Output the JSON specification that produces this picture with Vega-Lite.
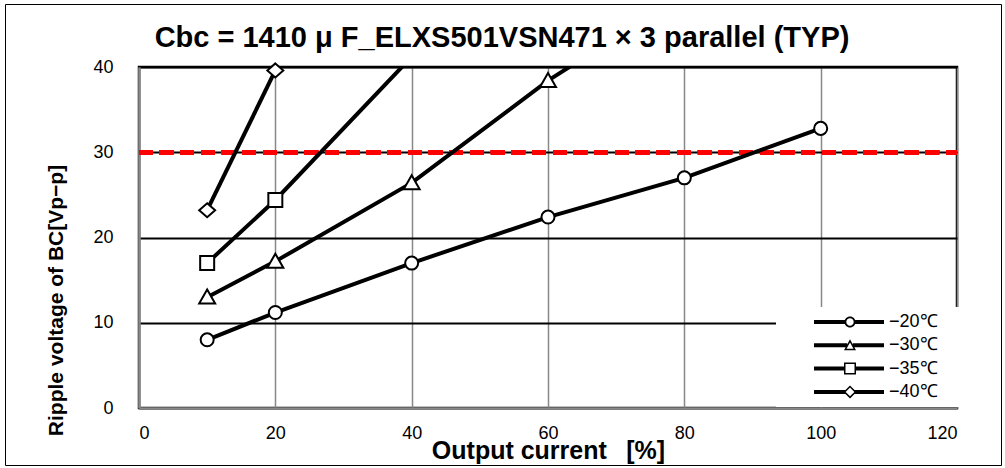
{
  "$schema": "https://vega.github.io/schema/vega-lite/v6.json",
  "width": 818,
  "height": 341,
  "autosize": "none",
  "padding": {"left": 139, "top": 67, "right": 48, "bottom": 60},
  "background": "white",
  "title": {
    "text": "Cbc = 1410 μ F_ELXS501VSN471 × 3 parallel (TYP)",
    "font": "Liberation Sans",
    "fontSize": 29,
    "fontWeight": "bold",
    "color": "black",
    "anchor": "middle",
    "baseline": "alphabetic",
    "offset": 18,
    "dx": -46,
    "dy": 90
  },
  "config": {
    "view": {"stroke": "black", "strokeWidth": 2.5},
    "axis": {
      "labelFont": "Liberation Sans",
      "labelFontSize": 18,
      "labelColor": "black",
      "titleFont": "Liberation Sans",
      "titleFontWeight": "bold",
      "titleColor": "black",
      "ticks": false,
      "tickSize": 0
    }
  },
  "resolve": {"scale": {"shape": "independent"}, "legend": {"shape": "independent"}},
  "data": {
    "values": [
      {"series": "−20℃", "x": 10, "y": 8.0},
      {"series": "−20℃", "x": 20, "y": 11.2},
      {"series": "−20℃", "x": 40, "y": 17.0},
      {"series": "−20℃", "x": 60, "y": 22.4},
      {"series": "−20℃", "x": 80, "y": 27.0},
      {"series": "−20℃", "x": 100, "y": 32.8},
      {"series": "−30℃", "x": 10, "y": 13.0},
      {"series": "−30℃", "x": 20, "y": 17.2},
      {"series": "−30℃", "x": 40, "y": 26.4},
      {"series": "−30℃", "x": 60, "y": 38.4},
      {"series": "−30℃", "x": 80, "y": 48.6},
      {"series": "−35℃", "x": 10, "y": 17.0},
      {"series": "−35℃", "x": 20, "y": 24.4},
      {"series": "−35℃", "x": 40, "y": 41.2},
      {"series": "−40℃", "x": 10, "y": 23.2},
      {"series": "−40℃", "x": 20, "y": 39.6}
    ]
  },
  "encoding": {
    "x": {
      "field": "x",
      "type": "quantitative",
      "scale": {"domain": [0, 120], "nice": false, "zero": false},
      "axis": {
        "values": [0, 20, 40, 60, 80, 100, 120],
        "title": "Output current\u2002 [%]",
        "titleFontSize": 25,
        "titleY": 50,
        "titleBaseline": "alphabetic",
        "labelPadding": 16,
        "grid": true,
        "gridColor": "#888888",
        "gridWidth": 1.5,
        "domainColor": "#888888",
        "domainWidth": 2.5
      }
    },
    "y": {
      "field": "y",
      "type": "quantitative",
      "scale": {"domain": [0, 40], "nice": false, "zero": false},
      "axis": {
        "values": [0, 10, 20, 30, 40],
        "title": "Ripple voltage of BC[Vp−p]",
        "titleFontSize": 21,
        "titleX": -83,
        "titleY": 233,
        "titleBaseline": "middle",
        "labelPadding": 26,
        "grid": true,
        "gridColor": "black",
        "gridWidth": 2,
        "domainColor": "#888888",
        "domainWidth": 2.5
      }
    }
  },
  "layer": [
    {
      "mark": {"type": "rule", "color": "#ff0000", "strokeWidth": 4.5, "strokeDash": [13.5, 7.2]},
      "encoding": {"y": {"datum": 30}, "x": {"value": 0}, "x2": {"value": 818}}
    },
    {
      "mark": {"type": "line", "clip": true, "color": "black", "strokeWidth": 4},
      "encoding": {"detail": {"field": "series", "type": "nominal"}}
    },
    {
      "transform": [{"filter": "datum.y <= 40"}],
      "mark": {"type": "point", "filled": true, "fill": "white", "stroke": "black", "strokeWidth": 2, "opacity": 1, "size": 196},
      "encoding": {
        "shape": {
          "field": "series",
          "type": "nominal",
          "scale": {
            "domain": ["−20℃", "−30℃", "−35℃", "−40℃"],
            "range": [
              "M-0.93,0 A0.93,0.93 0 1,1 0.93,0 A0.93,0.93 0 1,1 -0.93,0 Z",
              "M0,-1.1 L1.14,0.9 L-1.14,0.9 Z",
              "M-1,-1 L1,-1 L1,1 L-1,1 Z",
              "M0,-1 L1.14,0 L0,1 L-1.14,0 Z"
            ]
          },
          "legend": null
        }
      }
    },
    {
      "transform": [{"filter": "false"}],
      "mark": {"type": "point", "filled": true, "color": "black", "strokeWidth": 0, "opacity": 1, "size": 196},
      "encoding": {
        "shape": {
          "field": "series",
          "type": "nominal",
          "scale": {
            "domain": ["−20℃", "−30℃", "−35℃", "−40℃"],
            "range": [
              "M-9.43,0 M14.71,0 M-5.143,-0.2857 L-0.607,-0.2857 L-0.607,0.2857 L-5.143,0.2857 Z M0.607,-0.2857 L4.857,-0.2857 L4.857,0.2857 L0.607,0.2857 Z M-0.786,0 A0.786,0.786 0 1,1 0.786,0 A0.786,0.786 0 1,1 -0.786,0 Z M-0.529,0 A0.529,0.529 0 1,0 0.529,0 A0.529,0.529 0 1,0 -0.529,0 Z",
              "M-9.43,0 M14.71,0 M-5.143,-0.2857 L-0.414,-0.2857 L-0.414,0.2857 L-5.143,0.2857 Z M0.414,-0.2857 L4.857,-0.2857 L4.857,0.2857 L0.414,0.2857 Z M0,-0.857 L0.857,0.714 L-0.857,0.714 Z M0,-0.414 L-0.5,0.5 L0.5,0.5 Z",
              "M-9.43,0 M14.71,0 M-5.143,-0.2857 L-0.714,-0.2857 L-0.714,0.2857 L-5.143,0.2857 Z M0.714,-0.2857 L4.857,-0.2857 L4.857,0.2857 L0.714,0.2857 Z M-0.857,-0.857 L0.857,-0.857 L0.857,0.857 L-0.857,0.857 Z M-0.643,-0.643 L-0.643,0.643 L0.643,0.643 L0.643,-0.643 Z",
              "M-9.43,0 M14.71,0 M-5.143,-0.2857 L-0.636,-0.2857 L-0.636,0.2857 L-5.143,0.2857 Z M0.636,-0.2857 L4.857,-0.2857 L4.857,0.2857 L0.636,0.2857 Z M0,-0.929 L0.929,0 L0,0.929 L-0.929,0 Z M0,-0.626 L-0.626,0 L0,0.626 L0.626,0 Z"
            ]
          },
          "legend": {
            "orient": "none",
            "legendX": 637,
            "legendY": 240,
            "title": null,
            "fillColor": "white",
            "padding": 6,
            "symbolSize": 196,
            "symbolStrokeWidth": 0,
            "symbolFillColor": "black",
            "symbolOffset": 59,
            "rowPadding": 5.3,
            "labelOffset": 30,
            "labelFont": "Liberation Sans",
            "labelFontSize": 18,
            "labelColor": "black"
          }
        }
      }
    },
    {
      "transform": [{"filter": "false"}],
      "mark": {"type": "point", "filled": true, "color": "black", "strokeWidth": 0, "opacity": 1, "size": 4},
      "encoding": {
        "shape": {
          "field": "series",
          "type": "nominal",
          "scale": {"domain": ["frame"], "range": ["M0,0 M995,460"]},
          "legend": {
            "orient": "none",
            "legendX": -134,
            "legendY": -63,
            "title": null,
            "padding": 0,
            "strokeColor": "black",
            "symbolSize": 4,
            "symbolStrokeWidth": 0,
            "labelExpr": "''",
            "labelFontSize": 1,
            "labelOffset": 0,
            "encode": {"legend": {"update": {"strokeWidth": {"value": 2}}}}
          }
        }
      }
    }
  ]
}
